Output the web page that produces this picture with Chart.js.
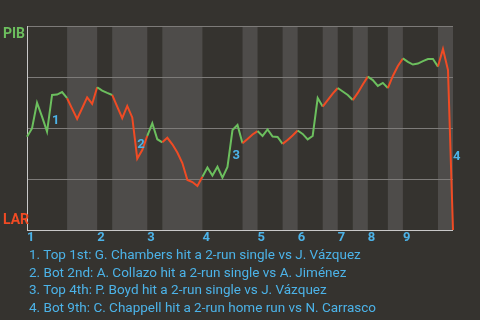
<!DOCTYPE html>
<html>
<head>
<meta charset="utf-8">
<script src="https://cdn.jsdelivr.net/npm/chart.js@4.4.0/dist/chart.umd.min.js"></script>
<style>
  html, body { margin: 0; padding: 0; background: #35332f; }
  #wrap { position: relative; width: 480px; height: 320px; }
  #notes { position: absolute; left: 29px; top: 246px; font: 13.5px Roboto, sans-serif; color: #4cb3e8; line-height: 17.7px; white-space: nowrap; }
</style>
</head>
<body>
<div id="wrap">
  <canvas id="wp" width="480" height="320"></canvas>
  <div id="notes"></div>
</div>
<script>
// teams: away on top, home at the bottom
const topTeam = 'PIB'
const bottomTeam = 'LAR'

// win probability for PIB after each play
const winProb = [
  0.457, 0.498, 0.624, 0.556, 0.482, 0.662, 0.664, 0.676, 0.646, 0.595,
  0.544, 0.597, 0.650, 0.618, 0.700, 0.683, 0.672, 0.662, 0.605, 0.548,
  0.608, 0.552, 0.350, 0.392, 0.462, 0.523, 0.445, 0.430, 0.452, 0.420,
  0.380, 0.328, 0.245, 0.235, 0.216, 0.261, 0.306, 0.267, 0.310, 0.257,
  0.309, 0.490, 0.515, 0.425, 0.446, 0.468, 0.485, 0.461, 0.493, 0.458,
  0.456, 0.422, 0.441, 0.463, 0.488, 0.471, 0.444, 0.461, 0.647, 0.605,
  0.637, 0.669, 0.696, 0.679, 0.662, 0.637, 0.672, 0.713, 0.752, 0.735,
  0.706, 0.721, 0.696, 0.755, 0.804, 0.841, 0.824, 0.811, 0.816, 0.828,
  0.838, 0.838, 0.801, 0.887, 0.784, 0.000
]

// play index where each half inning starts (top 1st, bot 1st, top 2nd ...)
const halfStarts = [0, 8, 14, 17, 24, 27, 35, 43, 46, 51, 54, 59, 62, 65, 68, 72, 75, 82]
const innings = ['1', '2', '3', '4', '5', '6', '7', '8', '9']

// big plays: play index right after the event
const eventPlays = [5, 22, 41, 85]
const eventLabels = ['1', '2', '3', '4']
const eventNotes = [
  '1. Top 1st: G. Chambers hit a 2-run single vs J. Vázquez',
  '2. Bot 2nd: A. Collazo hit a 2-run single vs A. Jiménez',
  '3. Top 4th: P. Boyd hit a 2-run single vs J. Vázquez',
  '4. Bot 9th: C. Chappell hit a 2-run home run vs N. Carrasco'
]

const bg = '#35332f'
const band = '#4e4c4a'
const green = '#6cbf5e'
const red = '#f04b24'
const blue = '#4cb3e8'
const gridCol = '#7d7b79'
const axisCol = '#c8c8c8'

function halfOf(i) {
  let h = 0
  while (h + 1 < halfStarts.length && halfStarts[h + 1] <= i) h++
  return h
}

$notes = document.getElementById('notes')
$notes.innerHTML = eventNotes.map(t => '<div>' + t + '</div>').join('')

const extras = {
  id: 'extras',
  beforeDraw(chart) {
    const ctx = chart.ctx
    const a = chart.chartArea
    const x = chart.scales.x
    const last = winProb.length - 1
    ctx.save()
    ctx.fillStyle = bg
    ctx.fillRect(0, 0, chart.width, chart.height)
    ctx.fillStyle = band
    for (let h = 1; h < halfStarts.length; h += 2) {
      const x0 = x.getPixelForValue(halfStarts[h])
      const x1 = x.getPixelForValue(h + 1 < halfStarts.length ? halfStarts[h + 1] : last)
      ctx.fillRect(x0, a.top, x1 - x0, a.bottom - a.top)
    }
    ctx.restore()
  },
  afterDraw(chart) {
    const ctx = chart.ctx
    const x = chart.scales.x
    const y = chart.scales.y
    ctx.save()
    ctx.font = 'bold 13px Roboto, sans-serif'
    ctx.fillStyle = blue
    ctx.textAlign = 'left'
    ctx.textBaseline = 'middle'
    innings.forEach((lab, i) => {
      ctx.fillText(lab, x.getPixelForValue(halfStarts[i * 2]), y.getPixelForValue(0) + 8)
    })
    eventPlays.forEach((p, i) => {
      const mid = (winProb[p - 1] + winProb[p]) / 2
      ctx.fillText(eventLabels[i], x.getPixelForValue(p), y.getPixelForValue(mid) + 7)
    })
    ctx.font = 'bold 14px Roboto, sans-serif'
    ctx.fillStyle = green
    ctx.textBaseline = 'top'
    ctx.fillText(topTeam, 3, y.getPixelForValue(1) + 1)
    ctx.fillStyle = red
    ctx.textBaseline = 'bottom'
    ctx.fillText(bottomTeam, 3, y.getPixelForValue(0) - 3)
    ctx.restore()
  }
}

new Chart(document.getElementById('wp'), {
  type: 'line',
  data: {
    labels: winProb.map((v, i) => i),
    datasets: [{
      data: winProb,
      borderWidth: 2,
      pointRadius: 0,
      tension: 0,
      borderColor: green,
      segment: {
        borderColor: c => halfOf(c.p0DataIndex) % 2 ? red : green
      }
    }]
  },
  options: {
    responsive: false,
    animation: false,
    devicePixelRatio: 1,
    layout: { padding: { left: 27, right: 27, top: 26, bottom: 90 } },
    plugins: { legend: { display: false }, tooltip: { enabled: false } },
    scales: {
      x: { display: false, offset: false },
      y: {
        min: 0, max: 1,
        ticks: { display: false, stepSize: 0.25 },
        grid: { color: c => c.tick.value === 0 ? axisCol : gridCol, drawTicks: false },
        border: { color: axisCol }
      }
    }
  },
  plugins: [extras]
})
</script>
</body>
</html>
